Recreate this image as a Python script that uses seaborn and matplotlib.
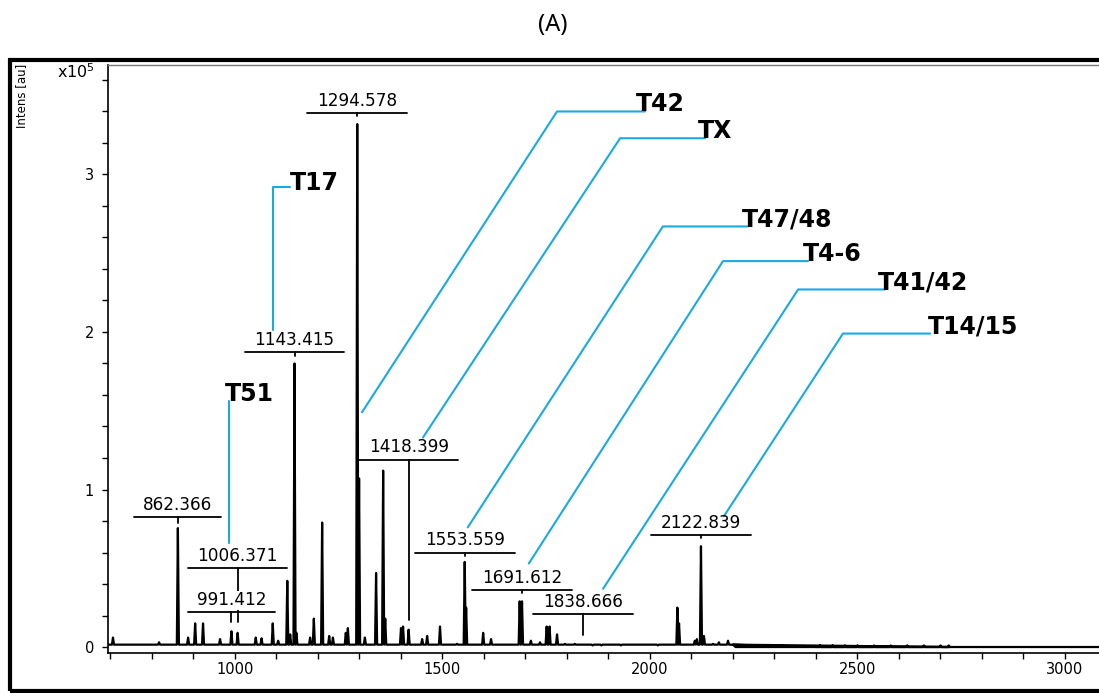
import numpy as np
import pandas as pd
import matplotlib
matplotlib.use("Agg")
import matplotlib.pyplot as plt
import seaborn as sns
from matplotlib.patches import Rectangle
from matplotlib.ticker import MultipleLocator

# peak list (m/z, intensity in 1e5 au)
peak_mz = [706, 817, 862.366, 887, 904, 923, 964, 991.412, 1006.371, 1050, 1064,
           1091, 1104, 1126, 1133, 1143.415, 1148, 1181, 1190, 1210, 1227, 1236,
           1267, 1272, 1294.578, 1299, 1313, 1340, 1357, 1362, 1400, 1405,
           1418.399, 1451, 1463, 1494, 1535, 1553.559, 1557, 1598, 1617, 1686,
           1691.612, 1713, 1735, 1751, 1758, 1776, 1795, 1819, 1838.666, 1862,
           1883, 1930, 2019, 2066, 2070, 2108, 2113, 2122.839, 2130, 2152, 2166,
           2188, 2410, 2440, 2470, 2500, 2540, 2580, 2620, 2660, 2700, 2720]
peak_int = [0.06, 0.03, 0.755, 0.06, 0.15, 0.15, 0.05, 0.10, 0.09, 0.06, 0.055,
            0.15, 0.04, 0.42, 0.08, 1.80, 0.09, 0.06, 0.18, 0.79, 0.07, 0.06,
            0.09, 0.12, 3.32, 1.07, 0.06, 0.47, 1.12, 0.18, 0.12, 0.13,
            0.11, 0.05, 0.07, 0.13, 0.02, 0.54, 0.25, 0.09, 0.05, 0.29,
            0.29, 0.04, 0.03, 0.13, 0.13, 0.08, 0.02, 0.02, 0.015, 0.01,
            0.01, 0.01, 0.01, 0.25, 0.15, 0.04, 0.05, 0.64, 0.07, 0.02, 0.03,
            0.04, 0.01, 0.01, 0.01, 0.01, 0.01, 0.01, 0.01, 0.01, 0.01, 0.01]

# noise floor of the trace
base_mz = [694, 2200, 2206, 3094]
base_lvl = [0.015, 0.015, 0.0, 0.0]

# m/z labels: underline height and where the leader stops
label_mz = [862.366, 991.412, 1006.371, 1143.415, 1294.578, 1418.399,
            1553.559, 1691.612, 1838.666, 2122.839]
label_line_y = [0.825, 0.22, 0.50, 1.87, 3.39, 1.19, 0.60, 0.36, 0.21, 0.71]
label_stop_y = [0.79, 0.16, 0.16, 1.85, 3.37, 0.17, 0.58, 0.34, 0.076, 0.69]

# peptide assignments (blue call-outs)
tag_names = ["T17", "T51", "T42", "TX", "T47/48", "T4-6", "T41/42", "T14/15"]
tag_text_x = [1133, 976, 1966, 2116, 2222, 2369, 2549, 2670]
tag_text_y = [2.90, 1.56, 3.40, 3.23, 2.67, 2.45, 2.27, 1.99]
tag_path_x = [[1091.6, 1091.6, 1132.5], [985.5, 985.5], [1306, 1776, 1988],
              [1453, 1928, 2133], [1561, 2031, 2236], [1708, 2176, 2381],
              [1887, 2357, 2566], [2178, 2465, 2675]]
tag_path_y = [[2.01, 2.92, 2.92], [0.66, 1.56], [1.49, 3.40, 3.40],
              [1.33, 3.23, 3.23], [0.76, 2.67, 2.67], [0.53, 2.45, 2.45],
              [0.37, 2.27, 2.27], [0.83, 1.99, 1.99]]

# build the stick trace
hw = 2.5
xs, ys = [base_mz[0]], [base_lvl[0]]
for m, h in sorted(zip(peak_mz, peak_int)):
    b = np.interp(m, base_mz, base_lvl)
    xs += [m - hw, m, m + hw]
    ys += [b, h, b]
xs += base_mz[1:]
ys += base_lvl[1:]
spec = pd.DataFrame({"mz": xs, "intens": ys})

sns.set_style("ticks")
plt.rcParams["font.family"] = ["DejaVu Sans"]
plt.rcParams["text.color"] = "black"
plt.rcParams["xtick.color"] = "black"
plt.rcParams["ytick.color"] = "black"

fig = plt.figure(figsize=(10.99, 6.93), dpi=100)
ax = fig.add_axes([108 / 1099, 1 - 653 / 693, (1104 - 108) / 1099, (653 - 65) / 693])

sns.lineplot(data=spec, x="mz", y="intens", sort=False, estimator=None,
             color="black", lw=1.6, ax=ax)

ax.set_xlim(694, 3094)
ax.set_ylim(-0.038, 3.695)
ax.set_xlabel("")
ax.set_ylabel("")
ax.xaxis.set_major_locator(MultipleLocator(500))
ax.xaxis.set_minor_locator(MultipleLocator(100))
ax.yaxis.set_major_locator(MultipleLocator(1))
ax.yaxis.set_minor_locator(MultipleLocator(0.2))
ax.tick_params(axis="x", which="both", length=4.5, width=1, pad=2, labelsize=10.5,
               colors="black")
ax.tick_params(axis="y", which="both", length=4, width=1, pad=6, labelsize=10.5,
               colors="black")
for s in ["left", "bottom"]:
    ax.spines[s].set_color("black")
    ax.spines[s].set_linewidth(1.2)
ax.spines["top"].set_color("#777777")
ax.spines["top"].set_linewidth(1)
ax.spines["right"].set_visible(False)

# m/z labels
for m, ly, sy in zip(label_mz, label_line_y, label_stop_y):
    txt = f"{m:.3f}"
    half = len(txt) * 15
    ax.plot([m - half, m + half], [ly, ly], color="black", lw=1.3)
    ax.plot([m, m], [ly, sy], color="black", lw=1.3)
    bbox = dict(fc="white", ec="none", pad=0.5) if m == 991.412 else None
    ax.text(m, ly + 0.02, txt, ha="center", va="bottom", fontsize=12.2,
            color="black", bbox=bbox, zorder=4)

# blue call-outs
blue = "#19AAE2"
for name, tx, ty, px, py in zip(tag_names, tag_text_x, tag_text_y, tag_path_x, tag_path_y):
    ax.plot(px, py, color=blue, lw=1.5, zorder=3)
    ax.text(tx, ty, name, ha="left", va="baseline", fontsize=17,
            fontweight="bold", color="black", zorder=4)

fig.text(95 / 1099, 1 - 72 / 693, r"x10$^5$", ha="right", va="center", fontsize=11.5)
fig.text(22 / 1099, 1 - 64 / 693, "Intens [au]", rotation=90, ha="center",
         va="top", fontsize=8.5)
fig.text(553 / 1099, 1 - 25 / 693, "(A)", ha="center", va="center", fontsize=17,
         family=["Noto Sans", "DejaVu Sans"])

fig.patches.append(Rectangle((10 / 1099, 1 - 691 / 693), 1.2, (691 - 60) / 693,
                             transform=fig.transFigure, fill=False, ec="black",
                             lw=3, clip_on=False))

fig.savefig("out.png", dpi=100)
